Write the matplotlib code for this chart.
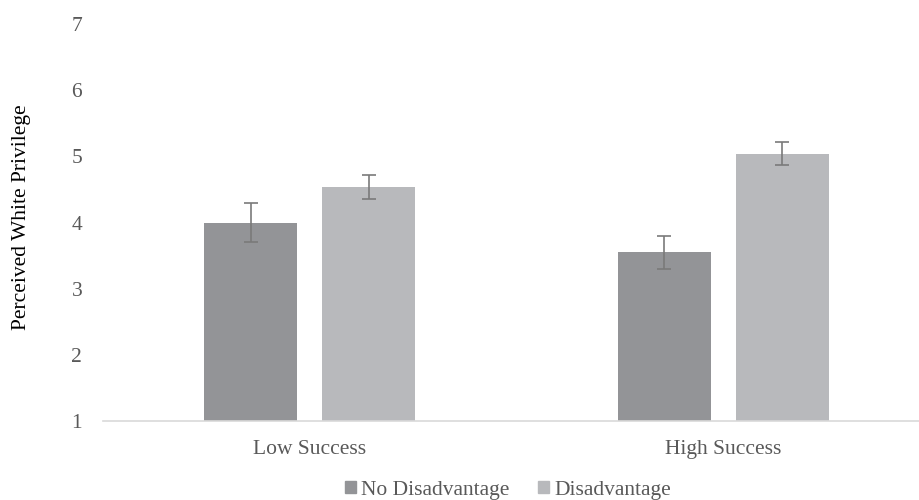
import matplotlib
matplotlib.use("Agg")
import matplotlib.pyplot as plt
import numpy as np
from matplotlib.patches import Patch

categories = ["Low Success", "High Success"]
series_names = ["No Disadvantage", "Disadvantage"]
no_dis = [4.00, 3.55]
no_dis_err = [0.29, 0.25]
dis = [4.54, 5.04]
dis_err = [0.18, 0.17]
yticks = [1, 2, 3, 4, 5, 6, 7]

plt.rcParams['font.family'] = ['Liberation Serif', 'DejaVu Serif']

fig = plt.figure(figsize=(9.2, 5.0), dpi=100)
ax = fig.add_axes([103/920, 79/500, 1 - 103/920, (421-24)/500])

x = np.arange(len(categories))
w = 0.225
off = 0.143
c1 = "#939497"
c2 = "#b8b9bc"
ecol = "#7a7a7a"
ax.bar(x - off, np.array(no_dis) - 1, w, bottom=1, color=c1, zorder=2)
ax.bar(x + off, np.array(dis) - 1, w, bottom=1, color=c2, zorder=2)
ax.errorbar(x - off, no_dis, yerr=no_dis_err, fmt='none', ecolor=ecol,
            elinewidth=1.2, capsize=5, capthick=1.2, zorder=3)
ax.errorbar(x + off, dis, yerr=dis_err, fmt='none', ecolor=ecol,
            elinewidth=1.2, capsize=5, capthick=1.2, zorder=3)

ax.set_xlim(-0.5, -0.5 + 817/413.5)
ax.set_ylim(1, 7)
ax.set_yticks(yticks)
ax.set_xticks(x)
ax.set_xticklabels(categories)
ax.tick_params(axis='both', length=0, colors="#595959", labelsize=15.5)
ax.tick_params(axis='y', pad=15)
ax.tick_params(axis='x', pad=14)
for s in ["top", "right", "left"]:
    ax.spines[s].set_visible(False)
ax.spines["bottom"].set_color("#d9d9d9")
ax.spines["bottom"].set_linewidth(1.2)

fig.text(22/920, 1 - 217/500, "Perceived White Privilege", rotation=90,
         ha='center', va='center', fontsize=15.5, color="#000000")

handles = [Patch(color=c1, label=series_names[0]), Patch(color=c2, label=series_names[1])]
fig.legend(handles=handles, loc='center', bbox_to_anchor=(508/920, 1 - 490/500),
           ncol=2, frameon=False, fontsize=15.5, handlelength=0.5, handleheight=0.5,
           handletextpad=0.25, columnspacing=1.3, labelcolor="#595959")

fig.savefig("out.png", dpi=100)
